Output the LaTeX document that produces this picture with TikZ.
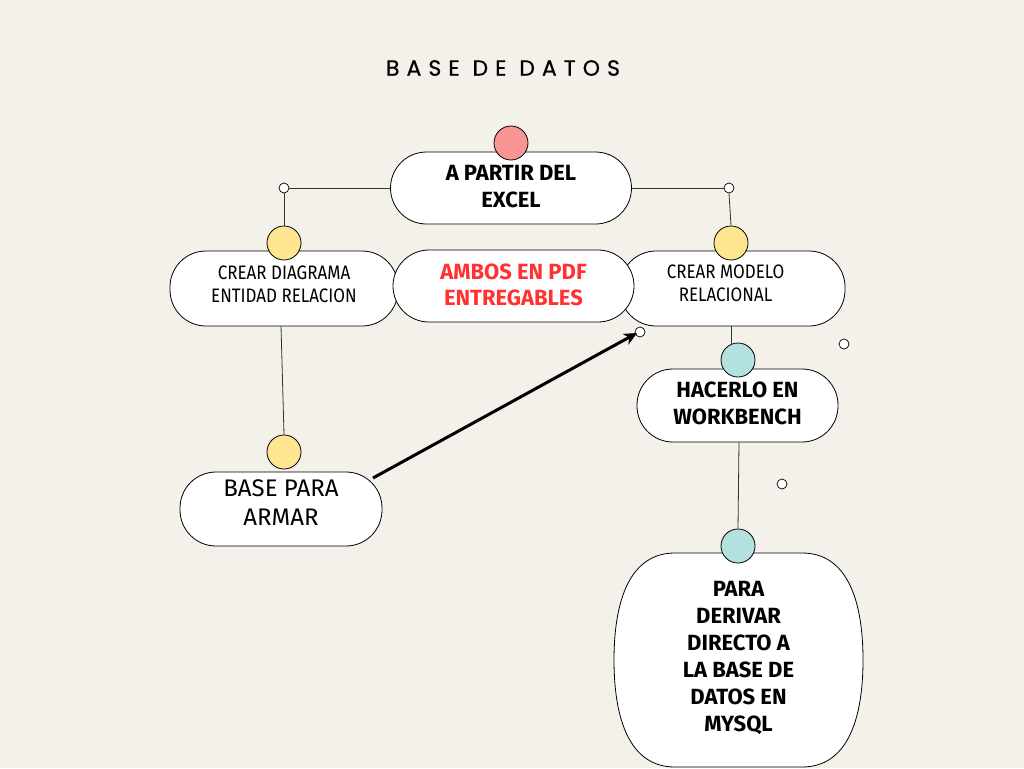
\documentclass[tikz,border=0pt]{standalone}
\usepackage{fontspec}
\setmainfont{Fira Sans}
\newfontfamily\condfont[FakeStretch=0.87]{Fira Sans}
\newfontfamily\titlefont[LetterSpace=32,FakeBold=0.6]{Poppins}
\usetikzlibrary{arrows.meta}
\newcommand{\mlines}[2]{\raisebox{#1}{\smash{\begin{tabular}{@{}c@{}}#2\end{tabular}}}}
\definecolor{bg}{HTML}{F4F0EA}
\definecolor{pinkc}{HTML}{F79595}
\definecolor{yellowc}{HTML}{FDE68F}
\definecolor{tealc}{HTML}{B3E1DF}
\definecolor{redtxt}{HTML}{FF3131}
\definecolor{linec}{HTML}{333333}
\tikzset{
  pill/.style={draw=black, line width=0.8pt, fill=white, rectangle, rounded corners=36pt,
    inner sep=0pt},
  dotbig/.style={circle, draw=black, line width=0.8pt, minimum size=34pt, inner sep=0pt},
  dotsmall/.style={circle, draw=black, line width=0.7pt, fill=white, minimum size=10pt, inner sep=0pt},
  conn/.style={draw=linec, line width=0.8pt},
  outline/.style={draw=black, line width=0.8pt, fill=white},
  arrowc/.style={draw=black, line width=3pt, -{Stealth[length=13pt,width=12pt,inset=4pt]}},
  boldtxt/.style={font=\fontsize{22}{27}\selectfont\bfseries},
  smalltxt/.style={font=\condfont\fontsize{19.5}{23}\selectfont},
}
\begin{document}
\begin{tikzpicture}[x=1pt,y=-1pt]
\useasboundingbox (0,0) rectangle (1024,768);
\fill[bg] (0,0) rectangle (1024,768);

\node[font=\titlefont\fontsize{22}{24}\selectfont] (title) at (503,68) {BASE DE DATOS};

% nodes
\node[pill, minimum width=241pt, minimum height=72pt, boldtxt] (top) at (511,188) {\mlines{-11pt}{A PARTIR DEL\\EXCEL}};
\node[pill, minimum width=228pt, minimum height=75pt, smalltxt] (left) at (284,288.5) {\mlines{-7pt}{CREAR DIAGRAMA\\ENTIDAD RELACION}};
\node[pill, minimum width=225pt, minimum height=75pt, smalltxt] (right) at (732.5,288.5) {\mlines{-5pt}{\hspace*{-14pt}CREAR MODELO\\\hspace*{-14pt}RELACIONAL}};
\node[pill, minimum width=241pt, minimum height=72pt, font=\fontsize{22}{26}\selectfont\bfseries, text=redtxt] (mid) at (513.5,286) {\mlines{-12.5pt}{AMBOS EN PDF\\ENTREGABLES}};
\node[pill, minimum width=202pt, minimum height=74pt, font=\fontsize{24}{29}\selectfont] (bpa) at (281,509) {\mlines{-5pt}{BASE PARA\\ARMAR}};
\node[pill, minimum width=201pt, minimum height=73pt, boldtxt] (wb) at (737.5,405.5) {\mlines{-11.5pt}{HACERLO EN\\WORKBENCH}};

% barrel-shaped last box
\path[outline] (675,553) -- (802,553)
  .. controls (847,553) and (863,600) .. (863,660)
  .. controls (863,720) and (847,767) .. (802,767)
  -- (675,767)
  .. controls (630,767) and (614,720) .. (614,660)
  .. controls (614,600) and (630,553) .. (675,553) -- cycle;
\node[boldtxt, inner sep=0pt] (mysql) at (738.5,660) {\mlines{-8.5pt}{PARA\\DERIVAR\\DIRECTO A\\LA BASE DE\\DATOS EN\\MYSQL}};

% small circles
\node[dotsmall] (sl) at (284,188) {};
\node[dotsmall] (sr) at (729,188) {};
\node[dotsmall] (sa) at (640,332) {};
\node[dotsmall] (s1) at (844,344) {};
\node[dotsmall] (s2) at (782,484) {};

% big circles
\node[dotbig, fill=pinkc] (ptop) at (511,143) {};
\node[dotbig, fill=yellowc] (yl) at (284,243) {};
\node[dotbig, fill=yellowc] (yr) at (731,243) {};
\node[dotbig, fill=yellowc] (yb) at (284,452) {};
\node[dotbig, fill=tealc] (t1) at (738,360) {};
\node[dotbig, fill=tealc] (t2) at (738,546) {};

% connectors
\draw[conn] (top.west) -- (sl.east);
\draw[conn] (sl.south) -- (yl.north);
\draw[conn] (top.east) -- (sr.west);
\draw[conn] (sr.south) -- (yr.north);
\draw[conn] (281,326) -- (yb.north);
\draw[conn] (731,326) -- (731,344.5);
\draw[conn] (739,442) -- (t2.north);

\coordinate (a1) at (373,478);
\coordinate (a2) at (637,333);
\draw[arrowc] (a1) -- (a2);
\end{tikzpicture}
\end{document}
